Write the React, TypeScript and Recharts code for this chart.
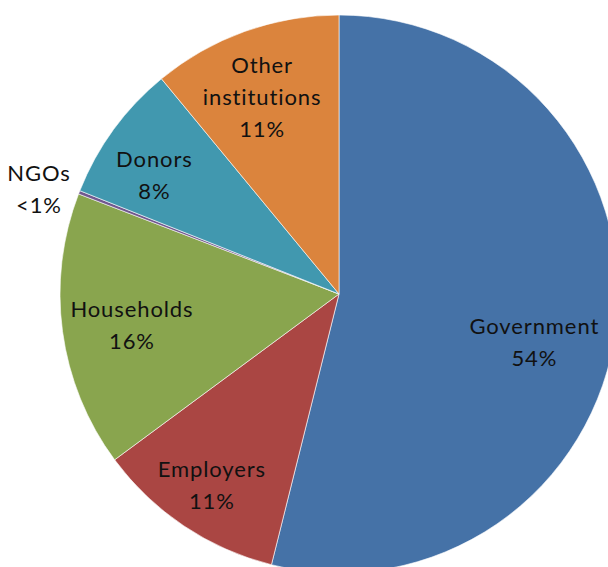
import { PieChart, Pie, Cell } from 'recharts';

// funding sources, clockwise from 12 o'clock
const sources = ['Government', 'Employers', 'Households', 'NGOs', 'Donors', 'Other institutions'];
const shares = [54, 11, 16, 0.2, 8, 11];
const shareLabels = ['54%', '11%', '16%', '<1%', '8%', '11%'];
const colors = ['#4572A7', '#AA4643', '#89A54E', '#71588F', '#4198AF', '#DB843D'];

const data = sources.map((name, i) => ({ name, value: shares[i], pct: shareLabels[i] }));

// label placement tweaks (radius as fraction of outer radius, angle nudge in degrees clockwise)
const placement: Record<string, { r: number; nudge: number; lines: string[] }> = {
  Government: { r: 0.72, nudge: 6.5, lines: ['Government'] },
  Employers: { r: 0.82, nudge: 0, lines: ['Employers'] },
  Households: { r: 0.75, nudge: -0.6, lines: ['Households'] },
  NGOs: { r: 1.14, nudge: -2, lines: ['NGOs'] },
  Donors: { r: 0.79, nudge: -3, lines: ['Donors'] },
  'Other institutions': { r: 0.76, nudge: -1.5, lines: ['Other', 'institutions'] },
};

const RADIAN = Math.PI / 180;
const LINE_H = 32;

const renderLabel = (props: any) => {
  const { cx, cy, midAngle, outerRadius, name, payload } = props;
  const p = placement[name];
  const a = (midAngle - p.nudge) * RADIAN;
  const r = outerRadius * p.r;
  const x = cx + r * Math.cos(a);
  const y = cy - r * Math.sin(a);
  const lines = [...p.lines, payload.pct];
  const top = y - ((lines.length - 1) * LINE_H) / 2;
  return (
    <text
      x={x}
      y={top}
      textAnchor="middle"
      dominantBaseline="central"
      fill="#111"
      style={{ fontFamily: 'Lato, sans-serif', fontSize: 22, letterSpacing: 0.9 }}
    >
      {lines.map((l, i) => (
        <tspan key={i} x={x} y={top + i * LINE_H}>
          {l}
        </tspan>
      ))}
    </text>
  );
};

export default function App() {
  return (
    <div style={{ position: 'absolute', left: 0, top: 0, width: 608, height: 567, overflow: 'hidden', background: '#fff' }}>
      <PieChart width={608} height={567} margin={{ top: 0, right: 0, bottom: 0, left: 0 }}>
        <Pie
          data={data}
          dataKey="value"
          nameKey="name"
          cx={339}
          cy={294}
          outerRadius={279}
          startAngle={90}
          endAngle={-270}
          stroke="#ffffff"
          strokeWidth={0.6}
          label={renderLabel}
          labelLine={false}
          isAnimationActive={false}
        >
          {data.map((d, i) => (
            <Cell key={d.name} fill={colors[i]} />
          ))}
        </Pie>
      </PieChart>
    </div>
  );
}
